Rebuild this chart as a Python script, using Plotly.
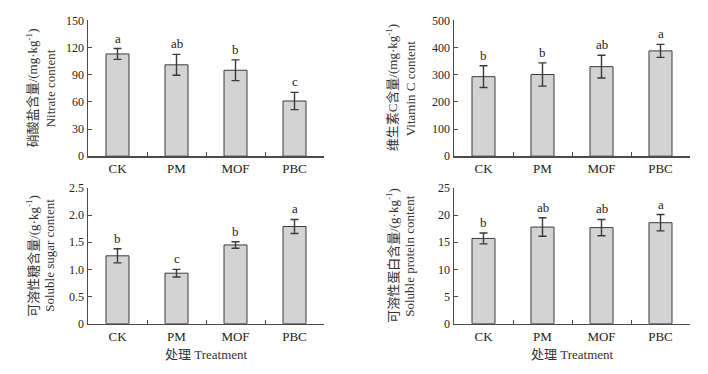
import plotly.graph_objects as go

categories = ["CK", "PM", "MOF", "PBC"]

nitrate = [113, 101, 95, 61]
nitrate_err = [6, 11.5, 11.5, 9.5]
nitrate_sig = ["a", "ab", "b", "c"]

vitc = [293, 301, 330, 388]
vitc_err = [40, 43, 42, 24]
vitc_sig = ["b", "b", "ab", "a"]

sugar = [1.25, 0.93, 1.45, 1.79]
sugar_err = [0.13, 0.07, 0.06, 0.13]
sugar_sig = ["b", "c", "b", "a"]

protein = [15.7, 17.8, 17.7, 18.6]
protein_err = [1.0, 1.7, 1.5, 1.5]
protein_sig = ["b", "ab", "ab", "a"]

nitrate_ticks = [0, 30, 60, 90, 120, 150]
vitc_ticks = [0, 100, 200, 300, 400, 500]
sugar_ticks = [0, 0.5, 1.0, 1.5, 2.0, 2.5]
sugar_ticktext = ["0", "0.5", "1.0", "1.5", "2.0", "2.5"]
protein_ticks = [0, 5, 10, 15, 20, 25]

y_titles = [
    ("硝酸盐含量/(mg·kg<sup>-1</sup>)", "Nitrate content"),
    ("维生素C含量/(mg·kg<sup>-1</sup>)", "Vitamin C content"),
    ("可溶性糖含量/(g·kg<sup>-1</sup>)", "Soluble sugar content"),
    ("可溶性蛋白含量/(g·kg<sup>-1</sup>)", "Soluble protein content"),
]
x_title = "处理 Treatment"

FONT = "Liberation Serif, Times New Roman, Noto Sans CJK SC, serif"
AX = "#4a4a4a"
W, H = 708, 374


def px_x(x):
    return x / W


def px_y(y):
    return 1 - y / H


panels = [
    (nitrate, nitrate_err, nitrate_sig, nitrate_ticks, [str(t) for t in nitrate_ticks]),
    (vitc, vitc_err, vitc_sig, vitc_ticks, [str(t) for t in vitc_ticks]),
    (sugar, sugar_err, sugar_sig, sugar_ticks, sugar_ticktext),
    (protein, protein_err, protein_sig, protein_ticks, [str(t) for t in protein_ticks]),
]

xdoms = [(px_x(88), px_x(324)), (px_x(454), px_x(690))]
ydoms = [(px_y(155), px_y(14)), (px_y(329), px_y(188))]

fig = go.Figure()
annotations = []
for i, (vals, errs, sig, tv, tt) in enumerate(panels):
    r, c = divmod(i, 2)
    n = i + 1
    xa = "x" if n == 1 else f"x{n}"
    ya = "y" if n == 1 else f"y{n}"
    fig.add_trace(go.Bar(
        x=categories, y=vals, xaxis=xa, yaxis=ya,
        marker=dict(color="#d3d3d3", line=dict(color="#3a3a3a", width=1)),
        error_y=dict(type="data", array=errs, visible=True, color="#3a3a3a",
                     thickness=1.4, width=4),
        width=0.39, showlegend=False, hoverinfo="skip",
    ))
    for cat, v, e, s in zip(categories, vals, errs, sig):
        annotations.append(dict(text=s, xref=xa, yref=ya, x=cat, y=v + e,
                                showarrow=False, xanchor="center",
                                yanchor="bottom", yshift=1,
                                font=dict(family=FONT, size=13, color="#222")))
    xkey = "xaxis" if n == 1 else f"xaxis{n}"
    ykey = "yaxis" if n == 1 else f"yaxis{n}"
    fig.update_layout(**{
        xkey: dict(domain=xdoms[c], anchor=ya, showline=True, linecolor=AX,
                   linewidth=1.5, ticks="inside", ticklen=4, tickcolor=AX,
                   tickson="boundaries", showgrid=False, zeroline=False,
                   tickfont=dict(family=FONT, size=13, color="#222"),
                   range=[-0.5, 3.5]),
        ykey: dict(domain=ydoms[r], anchor=xa, showline=True, linecolor=AX,
                   linewidth=1.5, ticks="inside", ticklen=4, tickcolor=AX,
                   showgrid=False, zeroline=False, range=[tv[0], tv[-1]],
                   tickvals=tv, ticktext=tt,
                   tickfont=dict(family=FONT, size=12, color="#222")),
    })
    ycen = (ydoms[r][0] + ydoms[r][1]) / 2
    xbase = 0 if c == 0 else 360
    t1, t2 = y_titles[i]
    annotations.append(dict(text=t1, xref="paper", yref="paper",
                            x=px_x(xbase + 32), y=ycen, textangle=-90,
                            showarrow=False, xanchor="center", yanchor="middle",
                            font=dict(family=FONT, size=13, color="#333")))
    annotations.append(dict(text=t2, xref="paper", yref="paper",
                            x=px_x(xbase + 50), y=ycen, textangle=-90,
                            showarrow=False, xanchor="center", yanchor="middle",
                            font=dict(family=FONT, size=13, color="#333")))
    if r == 1:
        annotations.append(dict(text=x_title, xref="paper", yref="paper",
                                x=(xdoms[c][0] + xdoms[c][1]) / 2,
                                y=px_y(361), showarrow=False,
                                xanchor="center", yanchor="middle",
                                font=dict(family=FONT, size=13, color="#333")))

fig.update_layout(
    width=W, height=H, margin=dict(l=0, r=0, t=0, b=0),
    plot_bgcolor="white", paper_bgcolor="white",
    annotations=annotations,
    font=dict(family=FONT),
)

fig.write_html(
    "out.html",
    config={"displayModeBar": False, "staticPlot": True},
    post_script="document.body.style.margin='0';document.body.style.overflow='hidden';",
)
